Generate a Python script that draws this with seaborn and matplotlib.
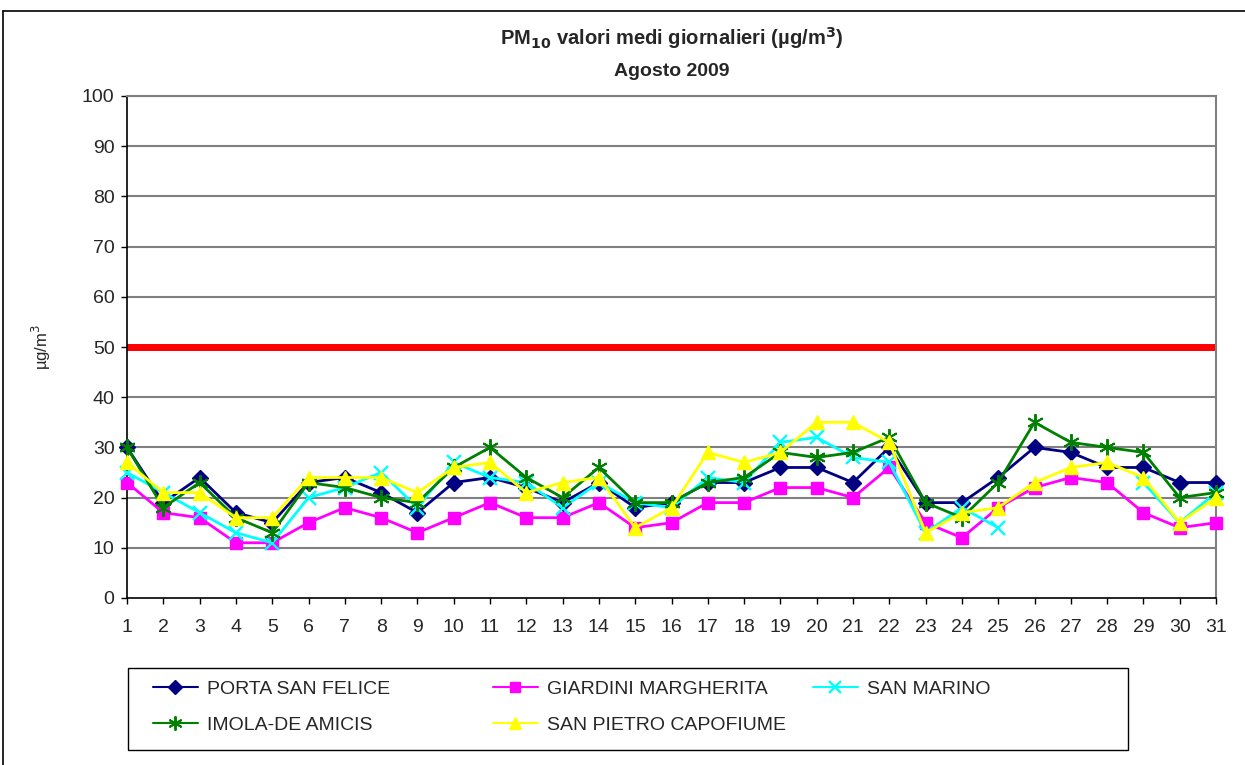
import matplotlib
matplotlib.use("Agg")
import matplotlib.pyplot as plt
import numpy as np
import seaborn as sns
from matplotlib.lines import Line2D
from matplotlib.patches import Rectangle

nan = np.nan

days = list(range(1, 32))
porta_san_felice = [30, 19, 24, 17, 15, 23, 24, 21, 17, 23, 24, 22, 19, 23, 18, 19,
                    23, 23, 26, 26, 23, 30, 19, 19, 24, 30, 29, 26, 26, 23, 23]
giardini_margherita = [23, 17, 16, 11, 11, 15, 18, 16, 13, 16, 19, 16, 16, 19, 14, 15,
                       19, 19, 22, 22, 20, 26, 15, 12, 18, 22, 24, 23, 17, 14, 15]
san_marino = [25, 21, 17, 13, 11, 20, 22, 25, 18, 27, 24, 23, 18, 23, 19, 18,
              24, 23, 31, 32, 28, 27, 13, 18, 14, nan, nan, nan, 23, 15, 21]
imola_de_amicis = [30, 18, 23, 16, 13, 23, 22, 20, 19, 26, 30, 24, 20, 26, 19, 19,
                   23, 24, 29, 28, 29, 32, 19, 16, 23, 35, 31, 30, 29, 20, 21]
san_pietro_capofiume = [27, 21, 21, 16, 16, 24, 24, 24, 21, 26, 27, 21, 23, 24, 14, 18,
                        29, 27, 29, 35, 35, 31, 13, 17, 18, 23, 26, 27, 24, 15, 20]
limit_value = 50
y_ticks = list(range(0, 101, 10))

series = [
    ("PORTA SAN FELICE", porta_san_felice, "#000080", "D", 8, 1),
    ("GIARDINI MARGHERITA", giardini_margherita, "#FF00FF", "s", 8, 1),
    ("SAN MARINO", san_marino, "#00FFFF", "x", 10, 1.7),
    ("IMOLA-DE AMICIS", imola_de_amicis, "#008000", (6, 2, 0), 12, 1.4),
    ("SAN PIETRO CAPOFIUME", san_pietro_capofiume, "#FFFF00", "^", 10, 1),
]

sns.set_style("white")
plt.rcParams["font.family"] = ["Liberation Sans", "DejaVu Sans"]

W, H = 1245, 765
fig = plt.figure(figsize=(W / 100, H / 100), dpi=100)
ax = fig.add_axes([127 / W, 1 - 598 / H, (1216 - 127) / W, (598 - 96) / H])

for y in y_ticks[1:]:
    ax.axhline(y, color="#808080", lw=1.5, zorder=0)
ax.axhline(limit_value, color="#FF0000", lw=5, zorder=1)

handles = {}
for name, values, color, marker, ms, mew in series:
    vals = np.array(values, dtype=float)
    x = np.array(days)
    # split on missing days so gaps stay open
    ok = ~np.isnan(vals)
    runs = np.split(np.arange(len(vals)), np.where(np.diff(ok.astype(int)) != 0)[0] + 1)
    for run in runs:
        if not ok[run[0]]:
            continue
        sns.lineplot(x=x[run], y=vals[run], ax=ax, color=color, lw=2, marker=marker,
                     markersize=ms, markeredgewidth=mew,
                     markeredgecolor=color, markerfacecolor=color,
                     clip_on=False, zorder=3, legend=False)
    handles[name] = Line2D([], [], color=color, lw=1.5, marker=marker,
                           markersize=ms * 0.85, markeredgewidth=mew,
                           markeredgecolor=color, markerfacecolor=color)

ax.set_xlim(1, 31)
ax.set_ylim(0, 100)
ax.set_xticks(days)
ax.set_yticks(y_ticks)
ax.tick_params(axis="both", labelsize=14, length=4, width=1, direction="out", color="black",
               bottom=True, left=True)
ax.tick_params(axis="x", pad=11)
ax.tick_params(axis="y", pad=5)
for side in ["left", "bottom"]:
    ax.spines[side].set_color("black")
    ax.spines[side].set_linewidth(1.2)
for side in ["top", "right"]:
    ax.spines[side].set_color("#808080")
    ax.spines[side].set_linewidth(1.5)
ax.set_xlabel("")
ax.set_ylabel("µg/m$^3$", fontsize=12)
ax.yaxis.set_label_coords((53 - 127) / 1089, 0.5)

cx = 0.5 * (127 + 1216) / W
fig.text(cx, 1 - 38 / H, "PM$_{\\mathbf{10}}$ valori medi giornalieri (µg/m$^\\mathbf{3}$)",
         ha="center", va="center", fontsize=14.5, fontweight="bold")
fig.text(cx, 1 - 72 / H, "Agosto 2009",
         ha="center", va="center", fontsize=14, fontweight="bold")

# legend: one frame, three columns placed like the original
fig.add_artist(Rectangle((128 / W, 1 - 750 / H), 1000 / W, 82 / H, transform=fig.transFigure,
                         fill=False, edgecolor="black", lw=1))
columns = [(153, ["PORTA SAN FELICE", "IMOLA-DE AMICIS"]),
           (493, ["GIARDINI MARGHERITA", "SAN PIETRO CAPOFIUME"]),
           (813, ["SAN MARINO"])]
for col_x, names in columns:
    fig.legend([handles[n] for n in names], names, loc="upper left",
               bbox_to_anchor=(col_x / W, 1 - 680 / H), frameon=False,
               borderaxespad=0, borderpad=0, fontsize=14, handlelength=2.3,
               handletextpad=0.5, labelspacing=0.95)

fig.add_artist(Line2D([3 / W, 3 / W], [0, 1 - 11 / H], color="black", lw=1.2))
fig.add_artist(Line2D([3 / W, 1], [1 - 11 / H, 1 - 11 / H], color="black", lw=1.2))

fig.savefig("out.png", dpi=100)
